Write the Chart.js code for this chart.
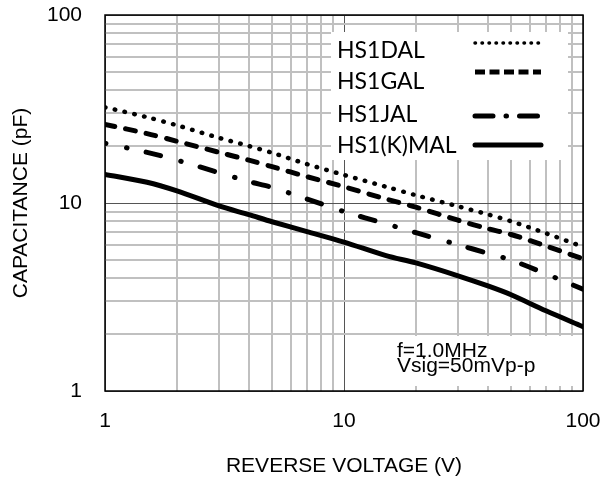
<!DOCTYPE html>
<html>
<head>
<meta charset="utf-8">
<script src="https://cdn.jsdelivr.net/npm/chart.js@4.4.0/dist/chart.umd.min.js"></script>
<style>
  body { margin: 0; background: #fff; }
</style>
</head>
<body>
<canvas id="myChart" width="611" height="481"></canvas>
<script>
// reverse voltage (V)
var voltage = [1, 1.5, 2, 3, 4, 5, 7, 10, 15, 20, 30, 40, 50, 70, 100];
// capacitance (pF)
var capDAL  = [32.3, 28.6, 25.9, 22.2, 20.1, 18.5, 16.1, 14.1, 12.2, 11.0, 9.6, 8.7, 8.0, 6.9, 5.85];
var capGAL  = [26.2, 23.4, 21.3, 18.6, 16.9, 15.6, 13.8, 12.2, 10.5, 9.5, 8.1, 7.3, 6.8, 5.9, 5.05];
var capJAL  = [20.8, 18.6, 16.9, 14.5, 13.0, 12.1, 10.5, 9.0, 7.75, 6.95, 6.0, 5.4, 4.97, 4.2, 3.48];
var capKMAL = [14.2, 12.9, 11.6, 9.65, 8.67, 7.95, 7.05, 6.2, 5.25, 4.8, 4.1, 3.62, 3.25, 2.67, 2.2];

var seriesNames = ["HS1DAL", "HS1GAL", "HS1JAL", "HS1(K)MAL"];
var gridValues = [1, 2, 3, 4, 5, 6, 7, 8, 9, 10, 20, 30, 40, 50, 60, 70, 80, 90, 100];
var tickValues = [1, 10, 100];
var tickLabels = ["1", "10", "100"];
var noteLines = ["f=1.0MHz", "Vsig=50mVp-p"];

var axisFont = { family: "'Liberation Sans', Arial, sans-serif", size: 21 };

function pts(vals) {
    return voltage.map(function (v, i) { return { x: v, y: vals[i] }; });
}
function isDecade(v) { return tickValues.indexOf(v) >= 0; }
function labelFor(v) {
    var i = tickValues.indexOf(v);
    return i >= 0 ? tickLabels[i] : "";
}
function gridOpts() {
    return {
        drawTicks: false,
        color: function (c) { return c.tick && isDecade(c.tick.value) ? "#555555" : "#c0c0c0"; },
        lineWidth: function (c) { return c.tick && isDecade(c.tick.value) ? 1 : 2; }
    };
}
// keep tick label padding from pushing the plot area in
function noPad(s) {
    s.paddingTop = 0; s.paddingBottom = 0; s.paddingLeft = 0; s.paddingRight = 0;
}

var styles = [
    { dash: [0.5, 9.5], width: 4.5, offset: 0 },
    { dash: [10, 11], width: 5, offset: 0 },
    { dash: [15, 21, 0.5, 19.5], width: 5, offset: 14 },
    { dash: [], width: 5, offset: 0 }
];
var series = [capDAL, capGAL, capJAL, capKMAL];

var datasets = series.map(function (vals, i) {
    return {
        label: seriesNames[i],
        data: pts(vals),
        borderColor: "#000",
        borderWidth: styles[i].width,
        borderDash: styles[i].dash,
        borderDashOffset: styles[i].offset,
        borderCapStyle: "round",
        pointRadius: 0,
        tension: 0.3,
        fill: false
    };
});

// white boxes, frame, legend and the measurement note
var panels = {
    id: "panels",
    beforeDatasetsDraw: function (chart) {
        var a = chart.chartArea, ctx = chart.ctx;
        ctx.save();
        ctx.fillStyle = "#fff";
        ctx.fillRect(a.left + 226, a.top + 17, 237, 128);
        ctx.fillRect(a.left + 240, a.top + 321, a.right - a.left - 240, 50);
        ctx.restore();
    },
    afterDatasetsDraw: function (chart) {
        var a = chart.chartArea, ctx = chart.ctx;
        ctx.save();
        ctx.strokeStyle = "#000";
        ctx.lineWidth = 1.5;
        ctx.strokeRect(a.left, a.top, a.right - a.left, a.bottom - a.top);

        // legend
        var textY = [43, 74, 107, 138];
        var lineY = [28, 57, 101, 130];
        var legendDash = [[0.5, 6.5], [10, 4.5], [18, 13, 0.5, 13], []];
        var legendWidth = [3.5, 5, 5, 5];
        ctx.fillStyle = "#000";
        ctx.font = "23px Lato, 'Open Sans', sans-serif";
        ctx.textBaseline = "alphabetic";
        ctx.textAlign = "left";
        for (var i = 0; i < seriesNames.length; i++) {
            ctx.fillText(seriesNames[i], a.left + 232, a.top + textY[i]);
            ctx.beginPath();
            ctx.setLineDash(legendDash[i]);
            ctx.lineWidth = legendWidth[i];
            ctx.lineCap = i == 1 ? "butt" : "round";
            ctx.moveTo(a.left + 370, a.top + lineY[i]);
            ctx.lineTo(a.left + 436, a.top + lineY[i]);
            ctx.stroke();
        }
        ctx.setLineDash([]);

        // note
        ctx.font = "21px 'Liberation Sans', Arial, sans-serif";
        ctx.fillText(noteLines[0], a.left + 292, a.top + 342);
        ctx.fillText(noteLines[1], a.left + 292, a.top + 357);
        ctx.restore();
    }
};

new Chart("myChart", {
    type: "line",
    data: { datasets: datasets },
    options: {
        responsive: false,
        animation: false,
        devicePixelRatio: 1,
        layout: { autoPadding: false, padding: { top: 15, right: 28, left: 0, bottom: 0 } },
        plugins: { legend: { display: false }, tooltip: { enabled: false } },
        scales: {
            x: {
                type: "logarithmic",
                min: 1,
                max: 100,
                afterBuildTicks: function (s) { s.ticks = gridValues.map(function (v) { return { value: v }; }); },
                afterFit: function (s) { s.height = 90; noPad(s); },
                ticks: { autoSkip: false, maxRotation: 0, padding: 18, color: "#000", font: axisFont, callback: labelFor },
                grid: gridOpts(),
                border: { display: false },
                title: { display: true, text: "REVERSE VOLTAGE (V)", color: "#000", font: axisFont, padding: { top: 0, bottom: 2 } }
            },
            y: {
                type: "logarithmic",
                min: 1,
                max: 100,
                afterBuildTicks: function (s) { s.ticks = gridValues.map(function (v) { return { value: v }; }); },
                afterFit: function (s) { s.width = 105; noPad(s); },
                ticks: { autoSkip: false, padding: 23, color: "#000", font: axisFont, callback: labelFor },
                grid: gridOpts(),
                border: { display: false },
                title: { display: true, text: "CAPACITANCE (pF)", color: "#000", font: axisFont, padding: { top: 9, bottom: 0 } }
            }
        }
    },
    plugins: [panels]
});
</script>
</body>
</html>
